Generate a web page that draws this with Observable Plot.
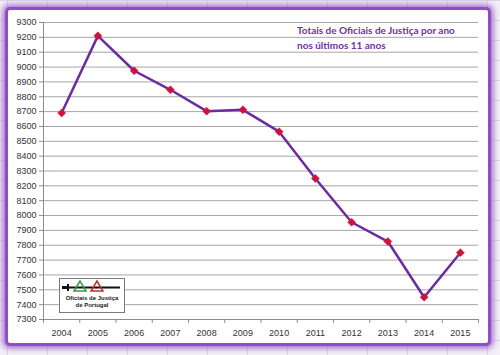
<!DOCTYPE html>
<html>
<head>
<meta charset="utf-8">
<script src="https://cdn.jsdelivr.net/npm/d3@7"></script>
<script src="https://cdn.jsdelivr.net/npm/@observablehq/plot@0.6"></script>
<style>
  html, body { margin: 0; padding: 0; }
  body {
    width: 500px; height: 355px; overflow: hidden; position: relative;
    background-color: #f3eff6;
    background-image:
      linear-gradient(to right, #ddd3e6 1px, transparent 1px),
      linear-gradient(to bottom, #ddd3e6 1px, transparent 1px);
    background-size: 40px 20px;
    background-position: 7px 0;
  }
  #panel {
    position: absolute; left: 8px; top: 10px; width: 480px; height: 333px;
    background: #fff;
    box-shadow: 0 0 0 3px #8e4fc2, 0 0 6px 5px #9d64cc;
    border-radius: 2px;
  }
  #chart { position: absolute; left: 0; top: 0; }
  #title {
    position: absolute; left: 297px; top: 23px;
    font-family: Lato, "Open Sans", sans-serif; font-weight: bold;
    font-size: 10px; line-height: 15px; color: #7030a0;
  }
  #logo { position: absolute; left: 59px; top: 278px; }
</style>
</head>
<body>
<div id="panel"></div>
<div id="chart"></div>
<div id="title">Totais de Oficiais de Justiça por ano<br>nos últimos 11 anos</div>
<div id="logo">
  <svg width="66" height="35" viewBox="0 0 66 35">
    <rect x="0.5" y="0.5" width="65" height="34" fill="#fff" stroke="#7a7a7a"/>
    <line x1="5" y1="9.5" x2="61" y2="9.5" stroke="#111" stroke-width="2"/>
    <line x1="9" y1="6" x2="9" y2="13" stroke="#111" stroke-width="2"/>
    <rect x="3" y="8" width="5" height="3" fill="#111"/>
    <path d="M21,3 L15,13 L27,13 Z" fill="none" stroke="#3a9a4a" stroke-width="1.5"/>
    <path d="M38,3 L32,13 L44,13 Z" fill="none" stroke="#c03030" stroke-width="1.5"/>
    <text x="33" y="22" text-anchor="middle" font-family="Liberation Sans, Arial, sans-serif" font-size="6" font-weight="bold" fill="#222">Oficiais de Justiça</text>
    <text x="33" y="29" text-anchor="middle" font-family="Liberation Sans, Arial, sans-serif" font-size="6" font-weight="bold" fill="#222">de Portugal</text>
  </svg>
</div>
<script>
const years = [2004, 2005, 2006, 2007, 2008, 2009, 2010, 2011, 2012, 2013, 2014, 2015];
const totals = [8690, 9210, 8975, 8847, 8703, 8712, 8565, 8250, 7955, 7825, 7450, 7750];
const yTicks = d3.range(7300, 9301, 100);
const xBoundaries = d3.range(2003.5, 2016, 1);

const data = years.map((y, i) => ({year: y, total: totals[i]}));

const chart = Plot.plot({
  width: 500,
  height: 355,
  marginLeft: 43,
  marginRight: 22,
  marginTop: 22,
  marginBottom: 36,
  style: {background: "transparent", fontFamily: "Liberation Sans, Arial, sans-serif", fontSize: "9px", color: "#333"},
  x: {domain: [2003.5, 2015.5]},
  y: {domain: [7300, 9300]},
  marks: [
    Plot.ruleY(yTicks, {stroke: "#a6a6a6", strokeWidth: 1}),
    Plot.ruleX([2003.5], {stroke: "#8c8c8c"}),
    Plot.ruleY([7300], {stroke: "#8c8c8c"}),
    Plot.axisY({ticks: yTicks, tickSize: 4, tickPadding: 3, tickFormat: d => String(d), stroke: "#8c8c8c", label: null, fill: "#333"}),
    Plot.axisX({ticks: years, tickSize: 0, tickPadding: 10, tickFormat: d => String(d), label: null, fill: "#333"}),
    Plot.axisX({ticks: xBoundaries, tickSize: 4, tickFormat: () => "", stroke: "#8c8c8c", label: null}),
    Plot.line(data, {x: "year", y: "total", stroke: "#6a2c9e", strokeWidth: 2.5}),
    Plot.dot(data, {x: "year", y: "total", symbol: "diamond2", r: 3.6, fill: "#d3103c", stroke: "#d3103c", strokeWidth: 0.5})
  ]
});
document.getElementById("chart").appendChild(chart);
</script>
</body>
</html>
